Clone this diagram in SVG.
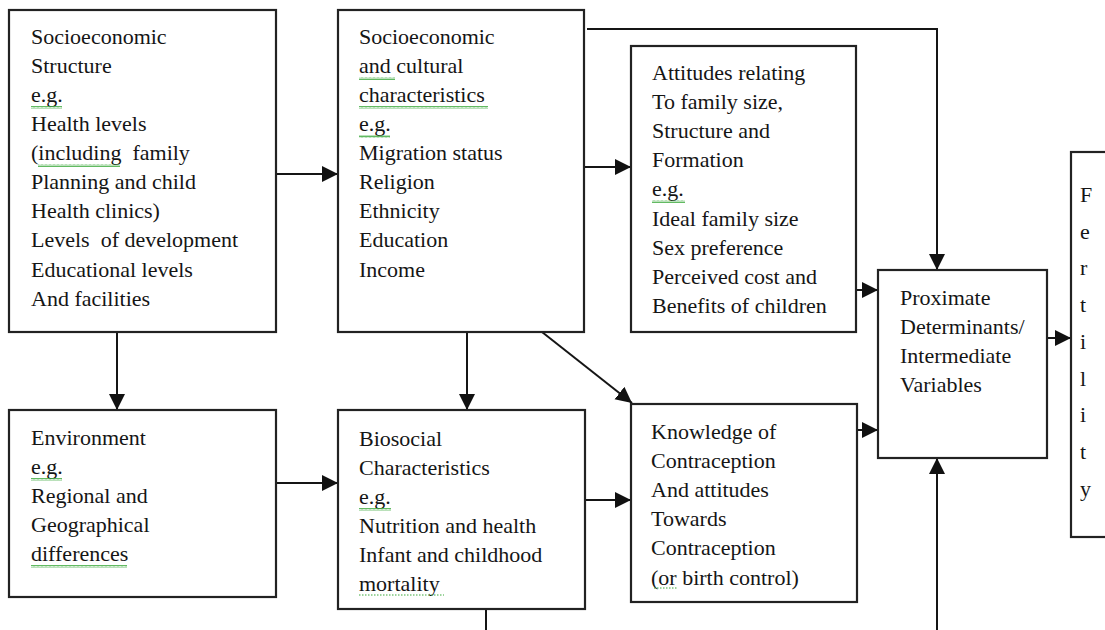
<svg xmlns="http://www.w3.org/2000/svg" width="1105" height="630" viewBox="0 0 1105 630">
  <style>
    .box { fill: #ffffff; stroke: #222222; stroke-width: 2.2; }
    text.lbl { font-family: "Liberation Serif", serif !important; font-size: 22px; fill: #151515; }
    .conn { fill: none; stroke: #151515; stroke-width: 2; }
    .dot { fill: none; stroke: #3aa83a; stroke-width: 1; stroke-dasharray: 1.5 1.5; }
  </style>
  <defs>
    <marker id="ah" markerUnits="userSpaceOnUse" markerWidth="17" markerHeight="17" refX="16" refY="8" orient="auto">
      <path d="M0,0 L16,8 L0,16 z" fill="#111111"/>
    </marker>
    <pattern id="wave" width="4" height="3" patternUnits="userSpaceOnUse">
      <path d="M0,2.5 L1,0.5 L2,2.5 L3,0.5 L4,2.5" fill="none" stroke="#3aa83a" stroke-width="0.8"/>
    </pattern>
  </defs>
  <rect width="1105" height="630" fill="#ffffff"/>

  <g id="connectors">
    <line class="conn" x1="276" y1="174" x2="338" y2="174" marker-end="url(#ah)"/>
    <line class="conn" x1="584" y1="167" x2="631" y2="167" marker-end="url(#ah)"/>
    <polyline class="conn" points="587,29 937,29 937,270" marker-end="url(#ah)"/>
    <line class="conn" x1="856" y1="290" x2="878" y2="290" marker-end="url(#ah)"/>
    <line class="conn" x1="1047" y1="338" x2="1071" y2="338" marker-end="url(#ah)"/>
    <line class="conn" x1="117" y1="332" x2="117" y2="410" marker-end="url(#ah)"/>
    <line class="conn" x1="467" y1="332" x2="467" y2="410" marker-end="url(#ah)"/>
    <line class="conn" x1="542" y1="332" x2="632" y2="403" marker-end="url(#ah)"/>
    <line class="conn" x1="276" y1="483" x2="338" y2="483" marker-end="url(#ah)"/>
    <line class="conn" x1="585" y1="500" x2="631" y2="500" marker-end="url(#ah)"/>
    <line class="conn" x1="857" y1="430" x2="878" y2="430" marker-end="url(#ah)"/>
    <line class="conn" x1="937" y1="630" x2="937" y2="458" marker-end="url(#ah)"/>
    <line class="conn" x1="486" y1="609" x2="486" y2="630"/>
  </g>

  <g id="socioeconomic-structure">
    <rect class="box" x="9" y="10" width="267" height="322"/>
    <text class="lbl" font-family="Liberation Serif" x="31" y="44">Socioeconomic</text>
    <text class="lbl" font-family="Liberation Serif" x="31" y="73">Structure</text>
    <text class="lbl" font-family="Liberation Serif" x="31" y="102">e.g.</text>
    <text class="lbl" font-family="Liberation Serif" x="31" y="131">Health levels</text>
    <text class="lbl" font-family="Liberation Serif" x="31" y="160" xml:space="preserve">(including  family</text>
    <text class="lbl" font-family="Liberation Serif" x="31" y="189">Planning and child</text>
    <text class="lbl" font-family="Liberation Serif" x="31" y="218">Health clinics)</text>
    <text class="lbl" font-family="Liberation Serif" x="31" y="247" xml:space="preserve">Levels  of development</text>
    <text class="lbl" font-family="Liberation Serif" x="31" y="277">Educational levels</text>
    <text class="lbl" font-family="Liberation Serif" x="31" y="306">And facilities</text>
    <rect x="31" y="106" width="31" height="3" fill="url(#wave)"/>
    <rect x="38" y="164" width="82" height="3" fill="url(#wave)"/>
  </g>

  <g id="socioeconomic-cultural">
    <rect class="box" x="338" y="10" width="246" height="322"/>
    <text class="lbl" font-family="Liberation Serif" x="359" y="44">Socioeconomic</text>
    <text class="lbl" font-family="Liberation Serif" x="359" y="73">and cultural</text>
    <text class="lbl" font-family="Liberation Serif" x="359" y="102">characteristics</text>
    <text class="lbl" font-family="Liberation Serif" x="359" y="131">e.g.</text>
    <text class="lbl" font-family="Liberation Serif" x="359" y="160">Migration status</text>
    <text class="lbl" font-family="Liberation Serif" x="359" y="189">Religion</text>
    <text class="lbl" font-family="Liberation Serif" x="359" y="218">Ethnicity</text>
    <text class="lbl" font-family="Liberation Serif" x="359" y="247">Education</text>
    <text class="lbl" font-family="Liberation Serif" x="359" y="277">Income</text>
    <rect x="359" y="77" width="36" height="3" fill="url(#wave)"/>
    <rect x="359" y="106" width="129" height="3" fill="url(#wave)"/>
    <rect x="359" y="135" width="31" height="3" fill="url(#wave)"/>
  </g>

  <g id="attitudes">
    <rect class="box" x="631" y="46" width="225" height="286"/>
    <text class="lbl" font-family="Liberation Serif" x="652" y="80">Attitudes relating</text>
    <text class="lbl" font-family="Liberation Serif" x="652" y="109">To family size,</text>
    <text class="lbl" font-family="Liberation Serif" x="652" y="138">Structure and</text>
    <text class="lbl" font-family="Liberation Serif" x="652" y="167">Formation</text>
    <text class="lbl" font-family="Liberation Serif" x="652" y="196">e.g.</text>
    <text class="lbl" font-family="Liberation Serif" x="652" y="226">Ideal family size</text>
    <text class="lbl" font-family="Liberation Serif" x="652" y="255">Sex preference</text>
    <text class="lbl" font-family="Liberation Serif" x="652" y="284">Perceived cost and</text>
    <text class="lbl" font-family="Liberation Serif" x="652" y="313">Benefits of children</text>
    <rect x="652" y="200" width="33" height="3" fill="url(#wave)"/>
  </g>

  <g id="proximate">
    <rect class="box" x="878" y="270" width="169" height="188"/>
    <text class="lbl" font-family="Liberation Serif" x="900" y="305">Proximate</text>
    <text class="lbl" font-family="Liberation Serif" x="900" y="334">Determinants/</text>
    <text class="lbl" font-family="Liberation Serif" x="900" y="363">Intermediate</text>
    <text class="lbl" font-family="Liberation Serif" x="900" y="392">Variables</text>
  </g>

  <g id="fertility">
    <rect class="box" x="1071" y="152" width="50" height="385"/>
    <text class="lbl" font-family="Liberation Serif" x="1080" y="202">F</text>
    <text class="lbl" font-family="Liberation Serif" x="1080" y="239">e</text>
    <text class="lbl" font-family="Liberation Serif" x="1080" y="275">r</text>
    <text class="lbl" font-family="Liberation Serif" x="1080" y="312">t</text>
    <text class="lbl" font-family="Liberation Serif" x="1080" y="349">i</text>
    <text class="lbl" font-family="Liberation Serif" x="1080" y="386">l</text>
    <text class="lbl" font-family="Liberation Serif" x="1080" y="422">i</text>
    <text class="lbl" font-family="Liberation Serif" x="1080" y="459">t</text>
    <text class="lbl" font-family="Liberation Serif" x="1080" y="496">y</text>
  </g>

  <g id="environment">
    <rect class="box" x="9" y="410" width="267" height="187"/>
    <text class="lbl" font-family="Liberation Serif" x="31" y="445">Environment</text>
    <text class="lbl" font-family="Liberation Serif" x="31" y="474">e.g.</text>
    <text class="lbl" font-family="Liberation Serif" x="31" y="503">Regional and</text>
    <text class="lbl" font-family="Liberation Serif" x="31" y="532">Geographical</text>
    <text class="lbl" font-family="Liberation Serif" x="31" y="561">differences</text>
    <rect x="31" y="478" width="31" height="3" fill="url(#wave)"/>
    <rect x="31" y="565" width="96" height="3" fill="url(#wave)"/>
  </g>

  <g id="biosocial">
    <rect class="box" x="338" y="410" width="247" height="199"/>
    <text class="lbl" font-family="Liberation Serif" x="359" y="446">Biosocial</text>
    <text class="lbl" font-family="Liberation Serif" x="359" y="475">Characteristics</text>
    <text class="lbl" font-family="Liberation Serif" x="359" y="504">e.g.</text>
    <text class="lbl" font-family="Liberation Serif" x="359" y="533">Nutrition and health</text>
    <text class="lbl" font-family="Liberation Serif" x="359" y="562">Infant and childhood</text>
    <text class="lbl" font-family="Liberation Serif" x="359" y="591">mortality</text>
    <rect x="359" y="508" width="32" height="3" fill="url(#wave)"/>
    <line class="dot" x1="359" y1="595" x2="444" y2="595"/>
  </g>

  <g id="knowledge">
    <rect class="box" x="631" y="404" width="226" height="198"/>
    <text class="lbl" font-family="Liberation Serif" x="651" y="439">Knowledge of</text>
    <text class="lbl" font-family="Liberation Serif" x="651" y="468">Contraception</text>
    <text class="lbl" font-family="Liberation Serif" x="651" y="497">And attitudes</text>
    <text class="lbl" font-family="Liberation Serif" x="651" y="526">Towards</text>
    <text class="lbl" font-family="Liberation Serif" x="651" y="555">Contraception</text>
    <text class="lbl" font-family="Liberation Serif" x="651" y="585">(or birth control)</text>
    <line class="dot" x1="654" y1="588" x2="678" y2="588"/>
  </g>
</svg>
